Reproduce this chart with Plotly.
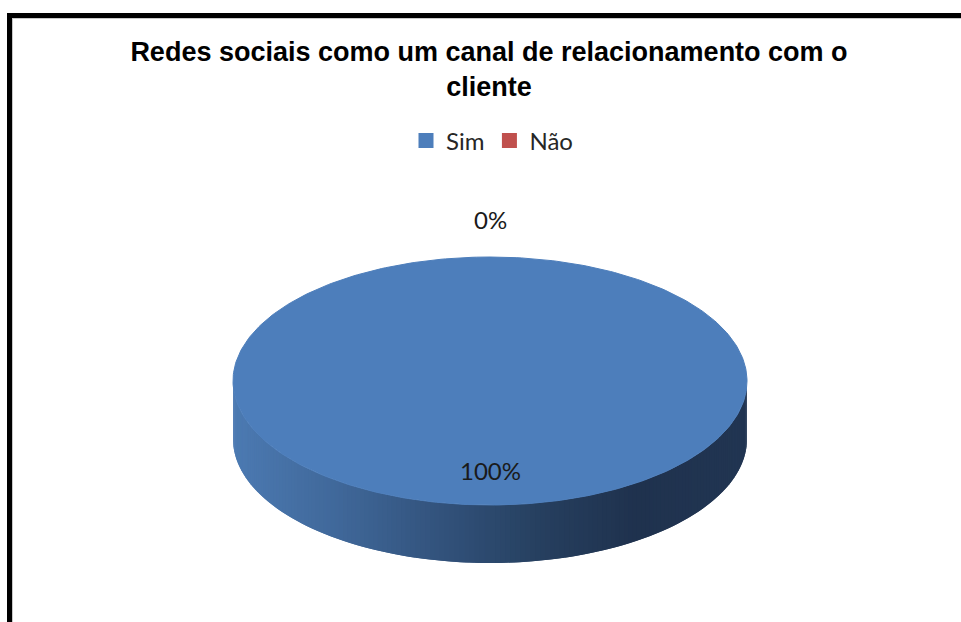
import numpy as np
import plotly.graph_objects as go

# ---- data -------------------------------------------------------------
categories = ["Sim", "Não"]
values = [100, 0]
slice_colors = ["#4d7ebb", "#c0504d"]
title_text = "Redes sociais como um canal de relacionamento com o<br>cliente"

# ---- canvas / pie geometry (pixel units on hidden axes) ---------------
W, H = 961, 622
CX, CY = 490, 381          # centre of the top face
RX, RY = 257, 124          # ellipse radii of the top face
DEPTH = 58                 # thickness of the disc
N_STRIPS = 160             # resolution of the shaded side wall

# horizontal shading of the side wall (position 0..1 -> rgb)
wall_stops = [
    (0.00, (76, 122, 178)),
    (0.20, (64, 104, 154)),
    (0.45, (47, 78, 117)),
    (0.60, (38, 63, 95)),
    (0.78, (31, 50, 78)),
    (1.00, (33, 53, 82)),
]


def wall_color(t):
    t = min(max(t, 0.0), 1.0)
    for (t0, c0), (t1, c1) in zip(wall_stops[:-1], wall_stops[1:]):
        if t <= t1:
            k = (t - t0) / (t1 - t0) if t1 > t0 else 0
            c = [round(a + (b - a) * k) for a, b in zip(c0, c1)]
            return "rgb({},{},{})".format(*c)
    return "rgb({},{},{})".format(*wall_stops[-1][1])


def rim(f):
    """Point on the top-face rim at fraction f (clockwise from 12 o'clock)."""
    a = 2 * np.pi * np.asarray(f)
    return CX + RX * np.sin(a), CY - RY * np.cos(a)


fig = go.Figure()

total = float(sum(values))
fractions = [v / total for v in values]
bounds = np.concatenate([[0.0], np.cumsum(fractions)])

# side wall: only the front half (fractions 0.25..0.75) faces the viewer.
# Each strip reaches over the next one so no seams show between them.
for i, frac in enumerate(fractions):
    f0, f1 = bounds[i], bounds[i + 1]
    lo, hi = max(f0, 0.25), min(f1, 0.75)
    if frac <= 0 or hi <= lo:
        continue
    edges = np.linspace(lo, hi, N_STRIPS + 1)
    for j in range(N_STRIPS):
        fa = edges[j]
        fb = edges[min(j + 2, N_STRIPS)]
        fm = (edges[j] + edges[j + 1]) / 2
        arc = np.linspace(fa, fb, 6)
        xs, ys = rim(arc)
        xm, _ = rim(fm)
        t = (xm - (CX - RX)) / (2 * RX)
        col = wall_color(t)
        px_ = np.concatenate([xs, xs[::-1], xs[:1]])
        py_ = np.concatenate([ys, ys[::-1] + DEPTH, ys[:1]])
        fig.add_trace(go.Scatter(
            x=px_, y=py_,
            mode="lines", fill="toself", fillcolor=col,
            line=dict(color=col, width=0),
            hoverinfo="skip", showlegend=False,
        ))

# top faces
for i, frac in enumerate(fractions):
    f0, f1 = bounds[i], bounds[i + 1]
    if frac <= 0:
        continue
    fs = np.linspace(f0, f1, 361)
    xs, ys = rim(fs)
    if frac < 1:
        xs = np.concatenate([[CX], xs, [CX]])
        ys = np.concatenate([[CY], ys, [CY]])
    fig.add_trace(go.Scatter(
        x=xs, y=ys, mode="lines", fill="toself",
        fillcolor=slice_colors[i], line=dict(color=slice_colors[i], width=1),
        hoverinfo="skip", showlegend=False,
    ))

# data labels: large slices inside, small ones outside the rim
for i, frac in enumerate(fractions):
    mid = (bounds[i] + bounds[i + 1]) / 2
    k = 0.72 if frac >= 0.1 else 1.30
    a = 2 * np.pi * mid
    fig.add_annotation(
        x=CX + k * RX * np.sin(a), y=CY - k * RY * np.cos(a),
        text=f"{frac:.0%}", showarrow=False,
        font=dict(family="Lato", size=24, color="#1a1a1a"),
        xanchor="center", yanchor="middle",
    )

# legend entries
for name, col in zip(categories, slice_colors):
    fig.add_trace(go.Scatter(
        x=[None], y=[None], mode="markers", name=name,
        marker=dict(symbol="square", size=15, color=col),
    ))


def px(x):
    return x / W


def py(y):
    return 1 - y / H


# outer frame
frame = [
    dict(x0=px(7), x1=px(961), y0=py(15.5), y1=py(15.5), color="black", width=5),
    dict(x0=px(9.5), x1=px(9.5), y0=py(13), y1=py(622), color="black", width=5),
    dict(x0=px(12), x1=px(961), y0=py(18.5), y1=py(18.5), color="#c8c8c8", width=1),
    dict(x0=px(12.5), x1=px(12.5), y0=py(18), y1=py(622), color="#c8c8c8", width=1),
]
for s in frame:
    fig.add_shape(type="line", xref="paper", yref="paper",
                  x0=s["x0"], x1=s["x1"], y0=s["y0"], y1=s["y1"],
                  line=dict(color=s["color"], width=s["width"]))

fig.update_layout(
    width=W, height=H,
    margin=dict(l=0, r=0, t=0, b=0),
    paper_bgcolor="white", plot_bgcolor="white",
    title=dict(
        text=title_text, x=px(489), xanchor="center",
        y=py(61), yanchor="top",
        font=dict(family="Liberation Sans", size=27, color="black", weight="bold"),
    ),
    legend=dict(
        orientation="h", x=px(492), xanchor="center",
        y=py(141), yanchor="middle",
        font=dict(family="Lato", size=24, color="#262626"),
        bgcolor="rgba(0,0,0,0)", itemclick=False, itemdoubleclick=False,
    ),
    xaxis=dict(range=[0, W], visible=False, fixedrange=True),
    yaxis=dict(range=[H, 0], visible=False, fixedrange=True),
    showlegend=True,
    hovermode=False,
)

fig.write_html("out.html")
